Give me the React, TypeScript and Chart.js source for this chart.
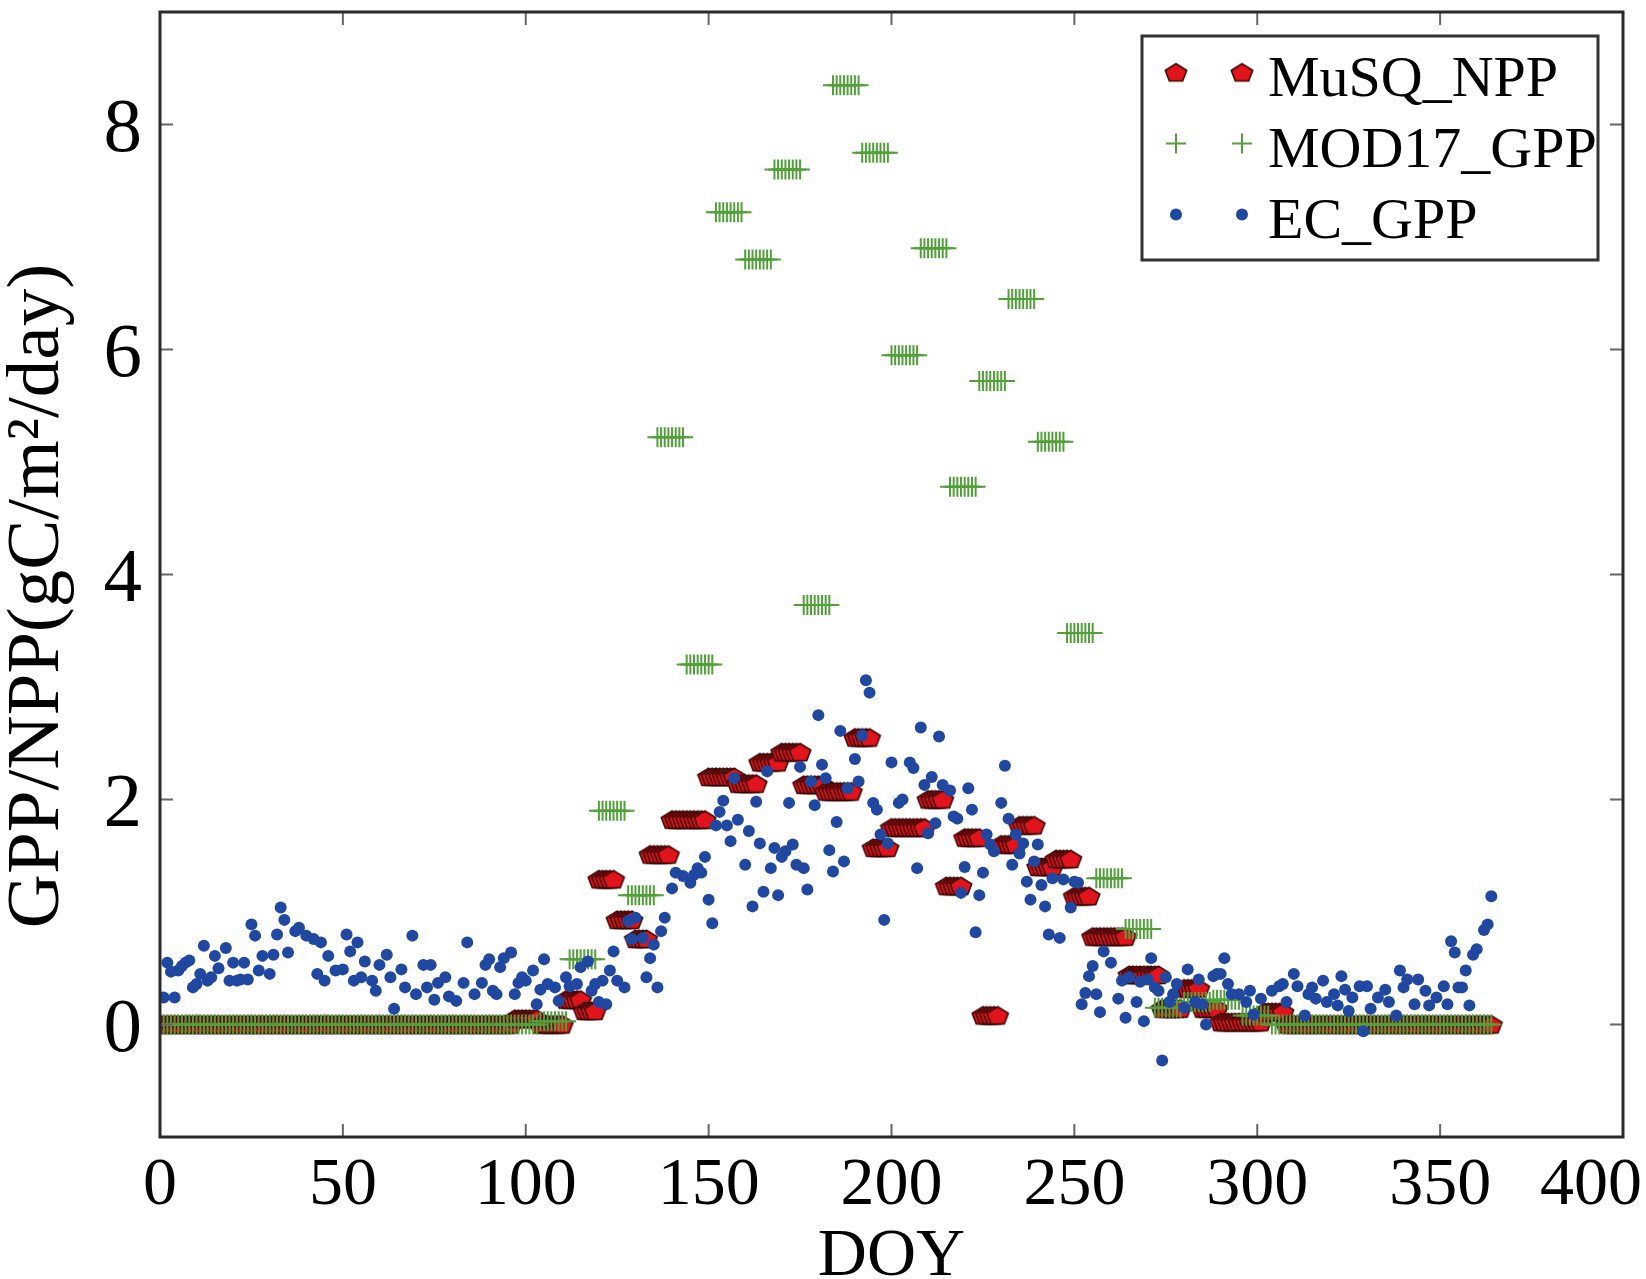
import React, { useEffect, useRef } from 'react';
import { Chart, registerables } from 'chart.js';

Chart.register(...registerables);

const FONT = '"Liberation Serif", "Times New Roman", serif';

const xTicks = [0, 50, 100, 150, 200, 250, 300, 350, 400];
const yTicks = [0, 2, 4, 6, 8];
const seriesNames = ['MuSQ_NPP', 'MOD17_GPP', 'EC_GPP'];
const lastDoy = 364;

// EC_GPP daily points (DOY, gC/m2/day)
const ecDoy = [
  1, 2, 3, 4, 5, 6, 7, 8, 9, 10, 11, 12, 13, 14, 15, 16, 18, 19, 20, 21, 22, 23, 24, 25, 26, 27, 28, 30, 31, 32,
  33, 34, 35, 37, 38, 40, 42, 43, 44, 45, 46, 48, 50, 51, 52, 53, 54, 55, 56, 58, 59, 60, 62, 63, 64, 66, 67, 69, 70, 72,
  73, 74, 75, 76, 78, 79, 81, 83, 84, 86, 88, 89, 90, 91, 92, 93, 94, 96, 97, 98, 99, 100, 102, 103, 104, 105, 106, 108, 109, 111,
  112, 114, 115, 117, 118, 119, 120, 121, 122, 123, 124, 125, 127, 128, 129, 130, 132, 133, 134, 135, 136, 137, 138, 140, 141, 143, 145, 146, 147, 148,
  149, 150, 151, 152, 153, 154, 155, 156, 157, 158, 160, 161, 162, 163, 164, 165, 166, 167, 168, 169, 170, 171, 172, 173, 174, 175, 176, 177, 178, 179,
  180, 181, 182, 183, 184, 185, 186, 187, 188, 190, 191, 192, 193, 194, 195, 196, 197, 198, 199, 200, 202, 203, 205, 206, 207, 208, 209, 210, 211, 212,
  213, 214, 216, 217, 218, 219, 220, 221, 222, 223, 224, 225, 226, 227, 228, 230, 231, 232, 233, 234, 235, 236, 237, 238, 239, 240, 241, 242, 243, 244,
  246, 247, 249, 250, 251, 252, 253, 254, 255, 256, 257, 258, 260, 262, 263, 264, 265, 267, 268, 269, 270, 271, 272, 273, 274, 275, 276, 277, 278, 280,
  281, 283, 284, 285, 286, 288, 289, 290, 291, 292, 293, 295, 297, 298, 299, 301, 304, 306, 307, 308, 310, 311, 313, 314, 315, 316, 318, 319, 321, 322,
  323, 324, 325, 326, 328, 329, 330, 331, 333, 335, 336, 338, 339, 340, 341, 343, 344, 346, 347, 349, 351, 352, 353, 354, 355, 356, 357, 358, 359, 360,
  362, 363, 364,
];
const ecGpp = [
  0.24, 0.55, 0.47, 0.24, 0.48, 0.52, 0.55, 0.57, 0.33, 0.36, 0.45, 0.70, 0.39, 0.42, 0.61, 0.50, 0.68, 0.39, 0.55, 0.39, 0.40, 0.55, 0.40, 0.89, 0.79, 0.48, 0.61, 0.45, 0.62, 0.80,
  1.04, 0.93, 0.64, 0.83, 0.86, 0.79, 0.76, 0.45, 0.73, 0.39, 0.61, 0.48, 0.49, 0.80, 0.65, 0.39, 0.73, 0.42, 0.56, 0.39, 0.30, 0.53, 0.62, 0.42, 0.14, 0.49, 0.33, 0.79, 0.27, 0.53,
  0.33, 0.53, 0.22, 0.37, 0.42, 0.25, 0.21, 0.37, 0.73, 0.27, 0.37, 0.53, 0.58, 0.30, 0.27, 0.51, 0.59, 0.64, 0.27, 0.37, 0.42, 0.39, 0.48, 0.18, 0.31, 0.58, 0.36, 0.33, 0.21, 0.42,
  0.34, 0.36, 0.51, 0.56, 0.30, 0.36, 0.20, 0.39, 0.18, 0.48, 0.65, 0.39, 0.33, 0.92, 0.76, 0.95, 0.77, 0.42, 0.59, 0.71, 0.33, 0.83, 0.95, 1.21, 1.35, 1.32, 1.26, 1.33, 1.39, 1.35,
  1.49, 1.11, 0.90, 1.77, 1.89, 1.99, 1.77, 1.63, 2.19, 1.82, 1.42, 1.72, 1.05, 1.98, 1.61, 1.18, 2.25, 1.39, 1.57, 1.15, 1.49, 1.54, 1.97, 1.60, 1.42, 2.29, 1.39, 1.20, 2.16, 1.95,
  2.75, 2.31, 2.19, 1.55, 1.36, 1.80, 2.61, 1.45, 2.10, 2.36, 2.16, 2.57, 3.06, 2.95, 1.97, 1.91, 1.69, 0.93, 1.61, 2.33, 1.97, 2.00, 2.33, 2.28, 1.39, 2.64, 2.13, 1.70, 2.20, 1.79,
  2.56, 2.13, 2.08, 1.85, 1.83, 1.17, 1.40, 2.10, 1.91, 0.82, 1.15, 1.35, 1.69, 1.60, 1.54, 1.97, 2.30, 1.83, 1.42, 1.69, 1.52, 1.61, 1.27, 1.11, 1.45, 1.60, 1.24, 1.05, 0.80, 1.30,
  0.77, 1.29, 1.04, 1.27, 1.26, 0.18, 0.28, 0.43, 0.52, 0.27, 0.11, 0.65, 0.55, 0.23, 0.39, 0.06, 0.42, 0.20, 0.38, 0.03, 0.40, 0.59, 0.33, 0.30, -0.32, 0.42, 0.20, 0.27, 0.36, 0.15,
  0.49, 0.20, 0.40, 0.18, 0.00, 0.43, 0.45, 0.45, 0.59, 0.36, 0.27, 0.27, 0.20, 0.30, 0.09, 0.23, 0.30, 0.34, 0.36, 0.20, 0.45, 0.34, 0.08, 0.27, 0.33, 0.23, 0.39, 0.20, 0.27, 0.17,
  0.43, 0.31, 0.12, 0.24, 0.34, -0.06, 0.34, 0.14, 0.24, 0.31, 0.20, 0.08, 0.48, 0.33, 0.40, 0.18, 0.40, 0.30, 0.17, 0.24, 0.34, 0.18, 0.74, 0.64, 0.33, 0.33, 0.48, 0.17, 0.62, 0.67,
  0.84, 0.89, 1.14,
];

// MOD17_GPP 8-day composites, composite k covers DOY 8k .. 8k+7
const mod17Gpp = [
  0, 0, 0, 0, 0, 0, 0, 0, 0, 0, 0, 0, 0, 0.03, 0.58, 1.9,
  1.15, 5.22, 3.2, 7.22, 6.8, 7.6, 3.73, 8.35, 7.75, 5.95, 6.9, 4.78, 5.72, 6.45, 5.18, 3.48,
  1.3, 0.85, 0.15, 0.2, 0.22, 0.08, 0, 0, 0, 0, 0, 0, 0, 0,
];

// MuSQ_NPP runs: value holds from each start DOY up to the next start
const musqStart = [
  0, 97, 104, 111, 116, 120, 125, 130, 134, 140, 150, 158, 164, 170, 176, 182, 190, 195,
  200, 210, 215, 220, 225, 230, 235, 240, 245, 250, 255, 265, 274, 280, 285, 290, 302, 308,
];
const musqNpp = [
  0, 0.05, 0, 0.22, 0.12, 1.29, 0.93, 0.76, 1.51, 1.82, 2.2, 2.14, 2.33, 2.42, 2.13, 2.07, 2.55, 1.57,
  1.75, 2.0, 1.23, 1.66, 0.08, 1.6, 1.77, 1.4, 1.47, 1.14, 0.78, 0.44, 0.14, 0.32, 0.14, 0.02, 0.11, 0,
];

const RED = '#e2141b';
const RED_EDGE = '#3a0606';
const GREEN = '#52a03a';
const BLUE = '#2148a0';

const makePentagon = () => {
  const c = document.createElement('canvas');
  c.width = 26;
  c.height = 22;
  const g = c.getContext('2d')!;
  const r = 11.3;
  const squash = 0.85;
  g.beginPath();
  for (let i = 0; i < 5; i++) {
    const a = -Math.PI / 2 + (i * 2 * Math.PI) / 5;
    const px = 13 + r * Math.cos(a);
    const py = 11.8 + r * squash * Math.sin(a);
    if (i === 0) g.moveTo(px, py);
    else g.lineTo(px, py);
  }
  g.closePath();
  g.fillStyle = RED;
  g.fill();
  g.lineWidth = 1.6;
  g.strokeStyle = RED_EDGE;
  g.stroke();
  return c;
};

const App: React.FC = () => {
  const canvasRef = useRef<HTMLCanvasElement>(null);
  const chartRef = useRef<Chart | null>(null);

  useEffect(() => {
    if (!canvasRef.current) return;
    if (chartRef.current) chartRef.current.destroy();

    const pentagon = makePentagon();

    const ecPoints = ecDoy.map((d, i) => ({ x: d, y: ecGpp[i] }));

    const modPoints: { x: number; y: number }[] = [];
    mod17Gpp.forEach((v, k) => {
      for (let d = k * 8; d <= Math.min(k * 8 + 7, lastDoy); d++) modPoints.push({ x: d, y: v });
    });

    const musqPoints: { x: number; y: number }[] = [];
    musqStart.forEach((s, i) => {
      const end = i + 1 < musqStart.length ? musqStart[i + 1] - 1 : lastDoy;
      for (let d = s; d <= end; d++) musqPoints.push({ x: d, y: musqNpp[i] });
    });

    const decorations = {
      id: 'decorations',
      afterDraw(chart: Chart) {
        const { ctx, chartArea: a, width } = chart;
        const xs = chart.scales.x;
        const ys = chart.scales.y;
        ctx.save();

        // inward tick marks on all four sides
        ctx.strokeStyle = '#666';
        ctx.lineWidth = 2;
        ctx.beginPath();
        xTicks.forEach((v) => {
          const px = xs.getPixelForValue(v);
          ctx.moveTo(px, a.bottom);
          ctx.lineTo(px, a.bottom - 13);
          ctx.moveTo(px, a.top);
          ctx.lineTo(px, a.top + 13);
        });
        yTicks.forEach((v) => {
          const py = ys.getPixelForValue(v);
          ctx.moveTo(a.left, py);
          ctx.lineTo(a.left + 13, py);
          ctx.moveTo(a.right, py);
          ctx.lineTo(a.right - 13, py);
        });
        ctx.stroke();

        // frame
        ctx.strokeStyle = '#2a2a2a';
        ctx.lineWidth = 3;
        ctx.strokeRect(a.left, a.top, a.right - a.left, a.bottom - a.top);

        // tick labels
        ctx.fillStyle = '#000';
        ctx.textBaseline = 'alphabetic';
        ctx.font = `68px ${FONT}`;
        ctx.textAlign = 'center';
        xTicks.forEach((v) => {
          const label = String(v);
          const half = ctx.measureText(label).width / 2;
          const cx = Math.min(xs.getPixelForValue(v), width - 4 - half);
          ctx.fillText(label, cx, a.bottom + 67);
        });
        ctx.font = `77px ${FONT}`;
        ctx.textAlign = 'right';
        yTicks.forEach((v) => ctx.fillText(String(v), a.left - 18, ys.getPixelForValue(v) + 26));

        // axis titles
        ctx.font = `68px ${FONT}`;
        ctx.textAlign = 'center';
        ctx.fillText('DOY', (a.left + a.right) / 2, 1275);
        ctx.save();
        ctx.translate(58, 596);
        ctx.rotate(-Math.PI / 2);
        ctx.font = `75px ${FONT}`;
        ctx.fillText('GPP/NPP(gC/m\u00b2/day)', 0, 0);
        ctx.restore();

        // legend with two sample markers per entry
        const lx = a.right - 481;
        const ly = a.top + 24;
        ctx.fillStyle = '#fff';
        ctx.fillRect(lx, ly, 456, 224);
        ctx.strokeStyle = '#333';
        ctx.lineWidth = 3;
        ctx.strokeRect(lx, ly, 456, 224);
        ctx.font = `58px ${FONT}`;
        ctx.textAlign = 'left';
        seriesNames.forEach((name, i) => {
          const my = ly + 36.5 + i * 71;
          [lx + 34, lx + 100].forEach((mx) => {
            if (i === 0) {
              ctx.drawImage(pentagon, mx - pentagon.width / 2, my - pentagon.height / 2);
            } else if (i === 1) {
              ctx.strokeStyle = GREEN;
              ctx.lineWidth = 2;
              ctx.beginPath();
              ctx.moveTo(mx - 10, my);
              ctx.lineTo(mx + 10, my);
              ctx.moveTo(mx, my - 10);
              ctx.lineTo(mx, my + 10);
              ctx.stroke();
            } else {
              ctx.fillStyle = BLUE;
              ctx.beginPath();
              ctx.arc(mx, my, 6, 0, Math.PI * 2);
              ctx.fill();
            }
          });
          ctx.fillStyle = '#000';
          ctx.fillText(name, lx + 126, my + 23);
        });

        ctx.restore();
      },
    };

    chartRef.current = new Chart(canvasRef.current, {
      type: 'scatter',
      data: {
        datasets: [
          {
            label: seriesNames[2],
            data: ecPoints,
            pointStyle: 'circle',
            pointRadius: 6,
            pointBorderWidth: 0,
            backgroundColor: BLUE,
            borderColor: BLUE,
            order: 1,
            clip: 0,
          },
          {
            label: seriesNames[1],
            data: modPoints,
            pointStyle: 'cross',
            pointRadius: 10,
            pointBorderWidth: 2,
            borderColor: GREEN,
            backgroundColor: GREEN,
            order: 2,
            clip: 0,
          },
          {
            label: seriesNames[0],
            data: musqPoints,
            pointStyle: pentagon,
            pointRadius: 11,
            backgroundColor: RED,
            borderColor: RED_EDGE,
            order: 3,
            clip: 0,
          },
        ],
      },
      options: {
        responsive: true,
        maintainAspectRatio: false,
        animation: false,
        events: [],
        layout: { padding: { top: 8, right: 23, left: 0, bottom: 0 } },
        plugins: { legend: { display: false }, tooltip: { enabled: false } },
        scales: {
          x: {
            type: 'linear',
            min: 0,
            max: 400,
            grid: { display: false },
            border: { display: false },
            ticks: { display: false },
            afterFit: (s: any) => {
              s.height = 142;
            },
          },
          y: {
            type: 'linear',
            min: -1,
            max: 9,
            grid: { display: false },
            border: { display: false },
            ticks: { display: false },
            afterFit: (s: any) => {
              s.width = 160;
            },
          },
        },
      },
      plugins: [decorations],
    });

    return () => {
      if (chartRef.current) {
        chartRef.current.destroy();
        chartRef.current = null;
      }
    };
  }, []);

  return (
    <div style={{ position: 'fixed', left: 0, top: 0, width: 1646, height: 1279, background: '#fff' }}>
      <canvas ref={canvasRef}></canvas>
    </div>
  );
};

export default App;
